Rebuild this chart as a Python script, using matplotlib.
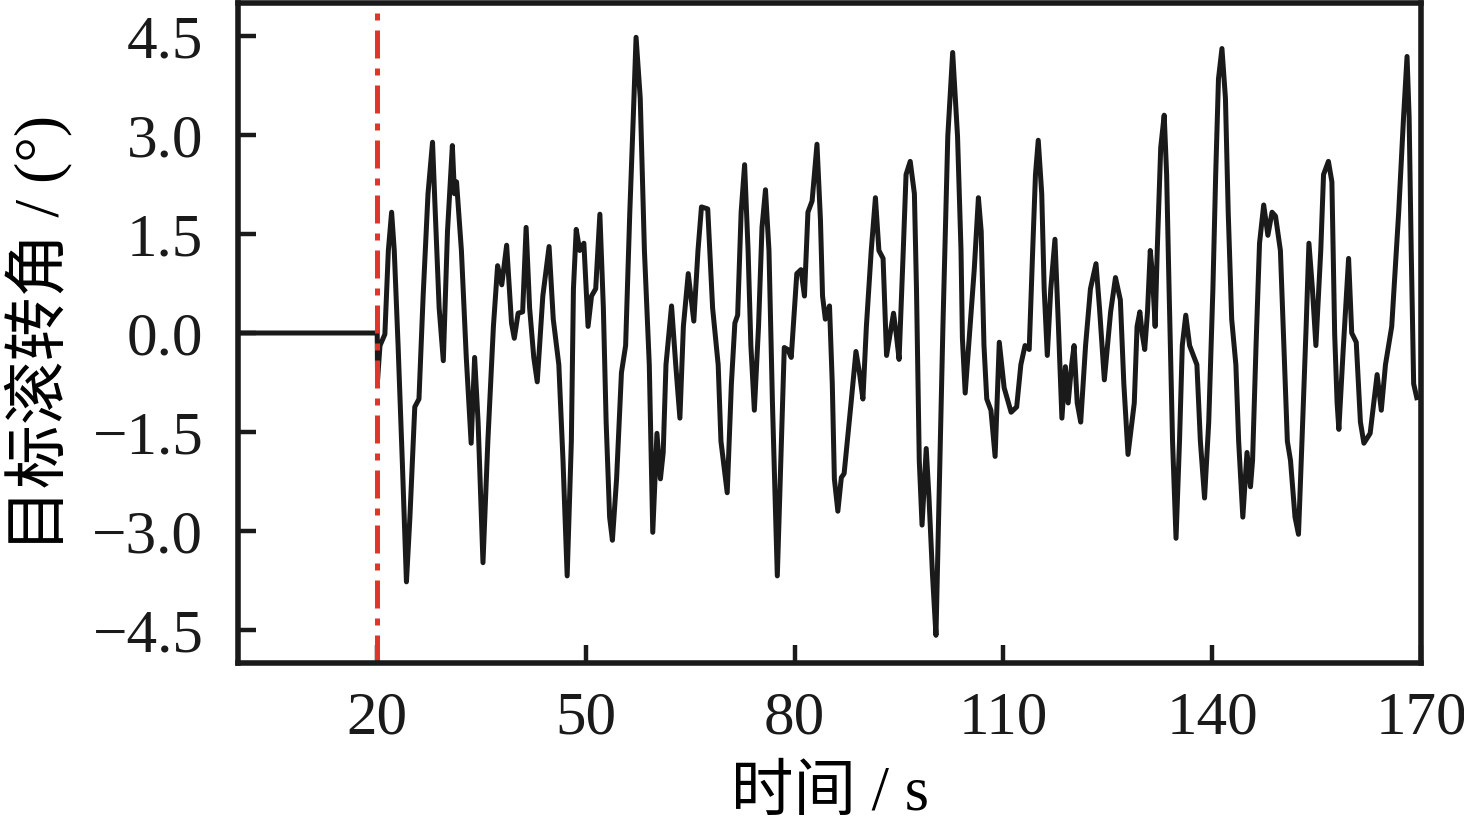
import matplotlib

matplotlib.use("Agg")
import matplotlib.pyplot as plt

# time (s) and target roll angle (deg)
time_s = [
    0, 20, 20.05, 20.4, 21.1, 21.6, 22.07, 22.45, 23.0, 23.6, 24.2, 24.7,
    25.4, 26.0, 26.6, 27.3, 27.95, 28.3, 28.9, 29.5, 30.1, 30.8, 31.1, 31.4,
    32.1, 32.8, 33.5, 34.0, 34.5, 35.2, 35.9, 36.7, 37.3, 37.9, 38.6, 39.3,
    39.7, 40.25, 40.9, 41.4, 41.9, 42.5, 43.0, 43.8, 44.7, 45.3, 46.1, 46.7,
    47.3, 47.9, 48.2, 48.6, 49.1, 49.7, 50.3, 50.8, 51.4, 52.0, 52.5, 52.9,
    53.4, 53.8, 54.4, 55.1, 55.7, 56.3, 56.8, 57.2, 57.8, 58.4, 59.1, 59.6,
    60.2, 60.7, 61.1, 61.5, 62.3, 62.9, 63.5, 64.0, 64.7, 65.5, 66.1, 66.6,
    67.5, 68.2, 69.0, 69.4, 70.3, 70.9, 71.4, 71.8, 72.3, 72.8, 73.3, 73.7,
    74.2, 74.8, 75.3, 75.8, 76.3, 76.8, 77.5, 78.0, 78.5, 79.0, 79.5, 80.3,
    80.9, 81.4, 81.9, 82.5, 83.2, 83.7, 84.0, 84.4, 85.0, 85.4, 85.7, 86.2,
    86.7, 87.1, 88.1, 88.8, 89.3, 89.8, 90.3, 91.0, 91.6, 92.1, 92.7, 93.2,
    93.6, 94.2, 94.6, 95.0, 95.6, 96.0, 96.6, 97.2, 97.5, 97.9, 98.3, 98.9,
    99.3, 99.8, 100.3, 100.8, 101.3, 102.0, 102.7, 103.4, 103.9, 104.1,
    104.5, 105.2, 105.8, 106.4, 106.8, 107.2, 107.6, 108.2, 108.8, 109.4,
    110.1, 110.4, 111.1, 111.9, 112.5, 113.1, 113.7, 114.2, 114.6, 115.0,
    115.5, 115.85, 116.3, 116.8, 117.4, 117.9, 118.4, 118.9, 119.3, 119.8,
    120.15, 120.6, 121.1, 121.8, 122.5, 123.3, 123.8, 124.5, 125.4, 126.1,
    126.8, 127.3, 127.9, 128.8, 129.2, 129.6, 129.95, 130.3, 130.7, 131.1,
    131.4, 131.8, 132.1, 132.6, 133.1, 133.45, 133.8, 134.3, 134.8, 135.3,
    135.7, 136.2, 136.75, 137.4, 137.8, 138.3, 138.9, 139.5, 140.1, 140.5,
    140.9, 141.4, 141.9, 142.3, 142.8, 143.4, 143.8, 144.4, 145.0, 145.5,
    145.8, 146.3, 146.8, 147.4, 148.0, 148.6, 149.1, 149.8, 150.3, 150.8,
    151.25, 151.9, 152.4, 152.9, 153.5, 153.9, 154.4, 154.9, 155.6, 156.0,
    156.7, 157.2, 157.6, 157.95, 158.2, 158.8, 159.6, 160.05, 160.7, 161.3,
    161.8, 162.7, 163.7, 164.3, 164.9, 165.8, 166.8, 167.5, 168.0, 168.3,
    168.6, 168.95, 169.4,
]
roll_deg = [
    0, 0, -0.71, -0.19, -0.02, 1.25, 1.83, 1.25, -0.19, -1.93, -3.77, -2.79,
    -1.12, -1.0, 0.56, 2.11, 2.89, 1.94, 0.38, -0.42, 1.54, 2.84, 2.11, 2.29,
    1.25, -0.37, -1.67, -0.37, -1.35, -3.48, -1.64, 0.1, 1.02, 0.73, 1.33, 0.15,
    -0.08, 0.3, 0.32, 1.6, 0.38, -0.37, -0.74, 0.56, 1.31, 0.21, -0.48, -1.93,
    -3.68, -1.64, 0.67, 1.57, 1.25, 1.36, 0.1, 0.56, 0.67, 1.8, 0.38, -1.35,
    -2.79, -3.14, -2.21, -0.6, -0.19, 1.83, 3.27, 4.48, 3.56, 1.25, -0.48, -3.02,
    -1.52, -2.21, -1.81, -0.48, 0.41, -0.48, -1.29, 0.1, 0.9, 0.18, 1.25, 1.91,
    1.88, 0.38, -0.48, -1.64, -2.42, -0.77, 0.15, 0.27, 1.83, 2.55, 1.25, -0.19,
    -1.17, 0.1, 1.6, 2.17, 1.25, -1.06, -3.68, -1.93, -0.22, -0.25, -0.37, 0.9,
    0.96, 0.56, 1.83, 2.0, 2.86, 1.71, 0.56, 0.21, 0.41, -0.77, -2.21, -2.7,
    -2.19, -2.13, -1.06, -0.28, -0.6, -1.0, 0.1, 1.25, 2.05, 1.25, 1.13, -0.34,
    -0.08, 0.3, -0.02, -0.4, 1.25, 2.4, 2.6, 2.11, 0.67, -1.93, -2.91, -1.75,
    -2.5, -3.66, -4.58, -2.21, 0.1, 2.98, 4.25, 2.98, 1.25, -0.08,
    -0.91, 0.1, 0.96, 2.05, 1.54, -0.19, -1.0, -1.17, -1.87, -0.14,
    -0.83, -0.94, -1.2, -1.12, -0.48, -0.19, -0.25, 1.25, 2.4, 2.92,
    2.11, 0.67, -0.34, 0.67, 1.42, 0.1, -1.29, -0.51, -1.06, -0.48,
    -0.19, -1.06, -1.35, -0.19, 0.67, 1.05, 0.38, -0.71, 0.32, 0.84,
    0.5, -0.77, -1.84, -1.06, 0.1, 0.32, -0.02, -0.25, 0.32, 1.25,
    0.9, 0.1, 1.25, 2.81, 3.3, 2.4, 0.67, -1.64, -3.11, -1.64,
    -0.19, 0.27, -0.19, -0.37, -0.48, -1.64, -2.5, -1.35, 0.67, 2.4,
    3.85, 4.31, 3.56, 1.83, 0.21, -0.48, -1.64, -2.79, -1.81, -2.33,
    -1.93, -0.19, 1.36, 1.94, 1.48, 1.83, 1.77, 1.25, -0.19, -1.64,
    -1.93, -2.79, -3.05, -1.64, 0.1, 1.36, 0.67, -0.19, 1.25, 2.4,
    2.6, 2.29, -0.02, -1.06, -1.46, -0.3, 1.13, 0.0, -0.14, -1.35,
    -1.67, -1.52, -0.63, -1.17, -0.48, 0.1, 1.83, 3.27, 4.19, 3.27,
    1.25, -0.77, -0.98,
]
start_time = 20
x_ticks = [20, 50, 80, 110, 140, 170]
y_ticks = [-4.5, -3.0, -1.5, 0.0, 1.5, 3.0, 4.5]


def main() -> int:
    plt.rcParams["font.family"] = ["Liberation Serif", "Noto Sans CJK SC"]
    plt.rcParams["axes.unicode_minus"] = True

    fig = plt.figure(figsize=(14.64, 8.26), dpi=100)
    axis = fig.add_axes([0.1626, 0.1973, 0.808, 0.7991])

    axis.plot(
        time_s, roll_deg, color="#1a1a1a", linewidth=3.6,
        solid_joinstyle="round",
    )
    axis.axvline(
        start_time,
        color="#e0352b",
        linewidth=3.6,
        dashes=(5.6, 2.0, 1.4, 2.0),
    )

    axis.set_xlim(0, 170)
    axis.set_ylim(-5, 5)
    axis.set_xticks(x_ticks)
    axis.set_yticks(y_ticks)
    axis.set_yticklabels([f"{v:.1f}".replace("-", "\u2212") for v in y_ticks])
    axis.tick_params(
        axis="both", direction="in", length=13, width=3.2, labelsize=44,
        colors="#1a1a1a",
    )
    axis.tick_params(axis="x", pad=20)
    axis.tick_params(axis="y", pad=25)
    for spine in axis.spines.values():
        spine.set_linewidth(4.0)
        spine.set_color("#1a1a1a")

    axis.set_xlabel("时间 / s", fontsize=45, labelpad=14)
    axis.set_ylabel("目标滚转角 / (°)", fontsize=46, labelpad=14)

    fig.savefig("out.png", dpi=100)
    plt.close(fig)
    return 0


if __name__ == "__main__":
    raise SystemExit(main())
